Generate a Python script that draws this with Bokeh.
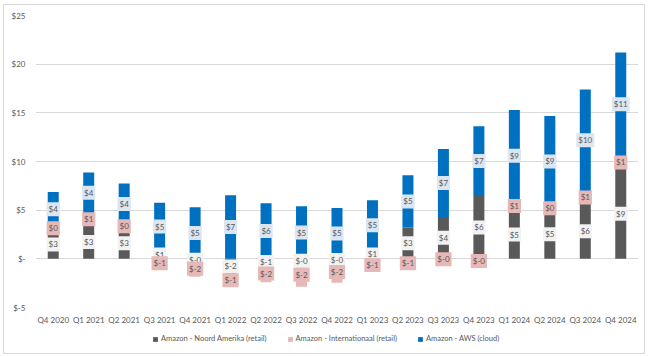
from bokeh.plotting import figure
from bokeh.layouts import column
from bokeh.models import Range1d, FactorRange, FixedTicker, ColumnDataSource, Legend, LegendItem
from bokeh.embed import file_html
from bokeh.resources import INLINE
from bokeh.core.properties import value

quarters = ["Q4 2020", "Q1 2021", "Q2 2021", "Q3 2021", "Q4 2021", "Q1 2022", "Q2 2022",
            "Q3 2022", "Q4 2022", "Q1 2023", "Q2 2023", "Q3 2023", "Q4 2023", "Q1 2024",
            "Q2 2024", "Q3 2024", "Q4 2024"]
noord_amerika = [2.95, 3.45, 3.18, 0.88, -0.21, -1.57, -0.63, -0.41, -0.24, 0.90, 3.21,
                 4.31, 6.46, 4.98, 5.07, 5.66, 9.26]
internationaal = [0.36, 1.25, 0.36, -0.91, -1.63, -1.28, -1.77, -2.47, -2.23, -1.25, -0.89,
                  -0.10, -0.42, 0.90, 0.27, 1.30, 1.30]
aws = [3.56, 4.16, 4.19, 4.88, 5.29, 6.52, 5.72, 5.40, 5.21, 5.12, 5.37, 6.98, 7.17, 9.42,
       9.33, 10.45, 10.63]
series_names = ["Amazon - Noord Amerika (retail)", "Amazon - Internationaal (retail)",
                "Amazon - AWS (cloud)"]
y_ticks = [-5, 0, 5, 10, 15, 20, 25]
y_tick_labels = ["$-5", "$-", "$5", "$10", "$15", "$20", "$25"]

colors = ["#595959", "#e6b8b7", "#0070c0"]
label_bg = ["#f2f2f2", "#e6b8b7", "#dce6f2"]
font = "Lato"
txt = "#595959"

p = figure(x_range=FactorRange(*quarters), y_range=Range1d(-5, 25),
           width=640, height=323, output_backend="svg", toolbar_location=None,
           min_border_left=31, min_border_right=6, min_border_top=10, min_border_bottom=21)
p.outline_line_color = None
p.background_fill_color = "white"
p.border_fill_color = "white"

p.xgrid.grid_line_color = None
p.ygrid.grid_line_color = "#d9d9d9"
p.ygrid.grid_line_width = 1
p.yaxis.ticker = FixedTicker(ticks=y_ticks)
p.yaxis.major_label_overrides = {t: l for t, l in zip(y_ticks, y_tick_labels)}
for ax in (p.xaxis, p.yaxis):
    ax.axis_line_color = None
    ax.major_tick_line_color = None
    ax.minor_tick_line_color = None
    ax.major_tick_out = 0
    ax.major_tick_in = 0
    ax.major_label_text_font = font
    ax.major_label_text_font_size = "8px"
    ax.major_label_text_color = txt
p.xaxis.major_label_standoff = 7
p.yaxis.major_label_standoff = 10

# legend strip below the chart (same data, same x range)
p2 = figure(x_range=p.x_range, y_range=Range1d(1000, 1001), width=640, height=25,
            output_backend="svg", toolbar_location=None, x_axis_location=None,
            y_axis_location=None, min_border=0, min_border_left=0, min_border_right=0,
            min_border_top=0, min_border_bottom=0)
p2.outline_line_color = None
p2.grid.visible = False
p2.border_fill_color = "white"

n = len(quarters)
pos = [0.0] * n
neg = [0.0] * n
legend_renderers = []
label_sets = []
for vals, col, bg in zip([noord_amerika, internationaal, aws], colors, label_bg):
    bottoms, tops, mids, labels = [], [], [], []
    for i, v in enumerate(vals):
        if v >= 0:
            b = pos[i]; t = b + v; pos[i] = t
        else:
            b = neg[i]; t = b + v; neg[i] = t
        bottoms.append(b); tops.append(t); mids.append((b + t) / 2)
        sign = "-" if v < 0 else ""
        labels.append("$" + sign + str(int(abs(v) + 0.5)))
    src = ColumnDataSource(dict(q=quarters, bottom=bottoms, top=tops, mid=mids, lbl=labels))
    p.vbar(x="q", bottom="bottom", top="top", width=0.31, source=src,
           fill_color=col, line_color=None)
    r2 = p2.vbar(x="q", bottom="bottom", top="top", width=0.31, source=src,
                 fill_color=col, line_color=None)
    legend_renderers.append(r2)
    label_sets.append((src, bg))

for src, bg in label_sets:
    p.text(x="q", y="mid", text="lbl", source=src, text_align="center",
           text_baseline="middle", text_font=value(font), text_font_size="8px",
           text_color=txt, background_fill_color=bg, padding=2)

legend = Legend(items=[LegendItem(label=nm, renderers=[r]) for nm, r in zip(series_names, legend_renderers)],
                orientation="horizontal", location=(117, 10), glyph_width=6, glyph_height=6,
                label_standoff=3, spacing=20, border_line_color=None, background_fill_alpha=0,
                label_text_font=font, label_text_font_size="7.5px", label_text_color=txt,
                padding=2, margin=0)
p2.add_layout(legend, "center")

layout = column(p, p2, spacing=0, margin=(4, 0, 0, 3),
                styles={"border": "1px solid #d9d9d9", "box-sizing": "border-box"})
open("out.html", "w").write(file_html(layout, INLINE))
